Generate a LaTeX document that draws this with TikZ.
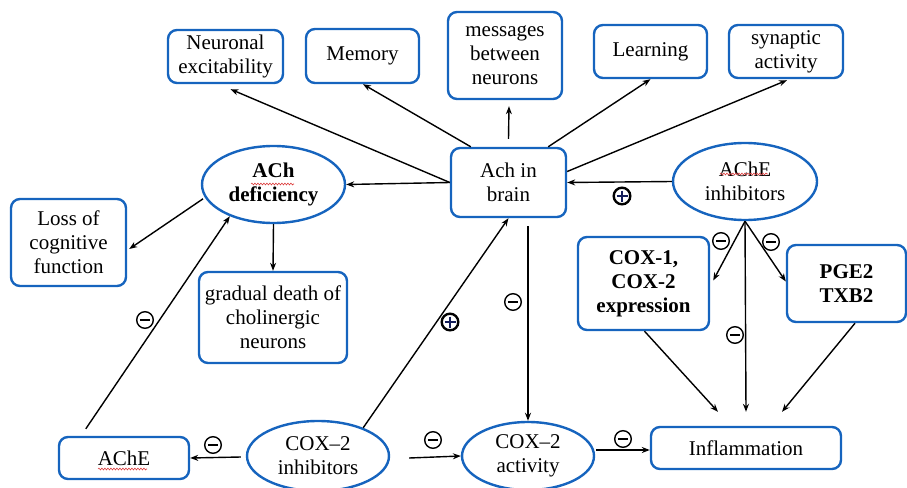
\documentclass[tikz,border=0pt]{standalone}
\usepackage{fontspec}
\setmainfont{Liberation Serif}
\usetikzlibrary{arrows.meta,calc,shapes.geometric,decorations.pathmorphing}
\definecolor{bblue}{RGB}{22,100,190}
\definecolor{navy}{RGB}{20,30,90}
\definecolor{wred}{RGB}{220,60,60}
\begin{document}
\begin{tikzpicture}[x=1pt,y=-1pt,
  txt/.style={font=\fontsize{21}{24}\selectfont, align=center, text=black},
  bold/.style={font=\fontsize{21}{24}\selectfont\bfseries},
  box/.style={txt, draw=bblue, line width=2.4pt, rounded corners=9pt, inner sep=0pt},
  ell/.style={txt, ellipse, draw=bblue, line width=2.4pt, inner sep=0pt},
  arr/.style={line width=1.4pt, -{Stealth[length=8pt,width=6pt]}},
  wavy/.style={wred, line width=0.6pt, decorate, decoration={snake, amplitude=0.9pt, segment length=3pt}},
  minussign/.pic={\draw[line width=1.4pt] (0,0) circle (8.3); \draw[line width=2.6pt] (-5.2,0) -- (5.2,0);},
  plussign/.pic={\draw[line width=2.4pt] (0,0) circle (8.3); \draw[navy, line width=2.8pt] (-5.5,0) -- (5.5,0) (0,-5.5) -- (0,5.5);}
]
\useasboundingbox (0,0) rectangle (907,487);

% top row
\node[box, minimum width=115, minimum height=53] (ne) at (225.5,56.5) {Neuronal\\excitability};
\node[box, minimum width=113, minimum height=54] (mem) at (362.5,56) {Memory};
\node[box, minimum width=114, minimum height=87] (msg) at (505,55.5) {messages\\between\\neurons};
\node[box, minimum width=113, minimum height=53] (learn) at (650.5,51.5) {Learning};
\node[box, minimum width=114, minimum height=53] (syn) at (786,51.5) {synaptic\\activity};

% middle
\node[box, minimum width=115, minimum height=69] (ach) at (508.5,182.5) {Ach in\\brain};
\node[ell, minimum width=144, minimum height=77] (achei) at (745,181.5) {AChE\\inhibitors};
\node[ell, bold, minimum width=143, minimum height=77] (achd) at (273.5,184.5) {ACh\\deficiency};
\node[box, minimum width=115, minimum height=87] (loss) at (68.5,242.5) {Loss of\\cognitive\\function};
\node[box, minimum width=148, minimum height=91] (grad) at (273,317.5) {gradual death of\\cholinergic\\neurons};
\node[box, bold, minimum width=131, minimum height=93] (cox1) at (643.5,283.5) {COX-1,\\COX-2\\expression};
\node[box, bold, minimum width=119, minimum height=77] (pge) at (846.5,283.5) {PGE2\\TXB2};

% bottom
\node[box, minimum width=130, minimum height=42] (acheb) at (124,458) {AChE};
\node[ell, minimum width=142, minimum height=70] (cox2i) at (318,456) {COX--2\\inhibitors};
\node[ell, minimum width=132, minimum height=68] (cox2a) at (528,456) {COX--2\\activity};
\node[box, minimum width=190, minimum height=42] (infl) at (746,448) {Inflammation};

% spell-check underlines
\draw[wavy] (251,184) -- (294,184);
\draw[wavy] (720,174) -- (768,174);
\draw[wavy] (98,469) -- (147,469);

% connectors from Ach in brain
\draw[arr] (ach.west) -- ($(ne.south)+(5,5)$);
\draw[arr] ($(ach.north west)+(21,0)$) -- ($(mem.south)+(0.5,0)$);
\draw[arr] ($(ach.north)+(0,-8)$) -- ($(msg.south)+(4,6)$);
\draw[arr] ($(ach.north east)+(-19,0)$) -- (learn.south);
\draw[arr] ($(ach.east)+(0,-11)$) -- ($(syn.south)+(1,1)$);
\draw[arr] (achei.west) -- (ach.east);
\draw[arr] (ach.west) -- (achd.east);
\draw[arr] ($(ach.south)+(19.5,8)$) -- (cox2a.north);

% ACh deficiency
\draw[arr] ($(achd.191)+(-2,1)$) -- ($(loss.east)+(2,6.5)$);
\draw[arr] (achd.south) -- (grad.north);
\draw[arr] ($(acheb.north west)+(28,-7)$) -- (achd.216);

% COX-2 inhibitors
\draw[arr] (cox2i.32) -- (ach.south);
\draw[arr] ($(cox2i.west)+(-5,1)$) -- (acheb.east);
\draw[arr] ($(cox2i.east)+(19,2)$) -- (cox2a.west);
\draw[arr] ($(cox2a.east)+(1,-6)$) -- ($(infl.west)+(0,2)$);

% AChE inhibitors
\draw[arr] (achei.south) -- ($(cox1.east)+(3,-3)$);
\draw[arr] (achei.south) -- ($(pge.west)+(0,-2)$);
\draw[arr] (achei.south) -- ($(infl.north)+(0,-14)$);
\draw[arr] ($(cox1.south)+(1,0)$) -- ($(infl.north)+(-28,-14)$);
\draw[arr] ($(pge.south)+(8.5,0)$) -- ($(infl.north)+(36,-14)$);

% signs
\pic at (622,196) {plussign};
\pic at (450,322) {plussign};
\pic at (721,241) {minussign};
\pic at (771,242) {minussign};
\pic at (735,335) {minussign};
\pic at (513,302) {minussign};
\pic at (145,320) {minussign};
\pic at (213,445) {minussign};
\pic at (433,440) {minussign};
\pic at (623,439) {minussign};
\end{tikzpicture}
\end{document}
